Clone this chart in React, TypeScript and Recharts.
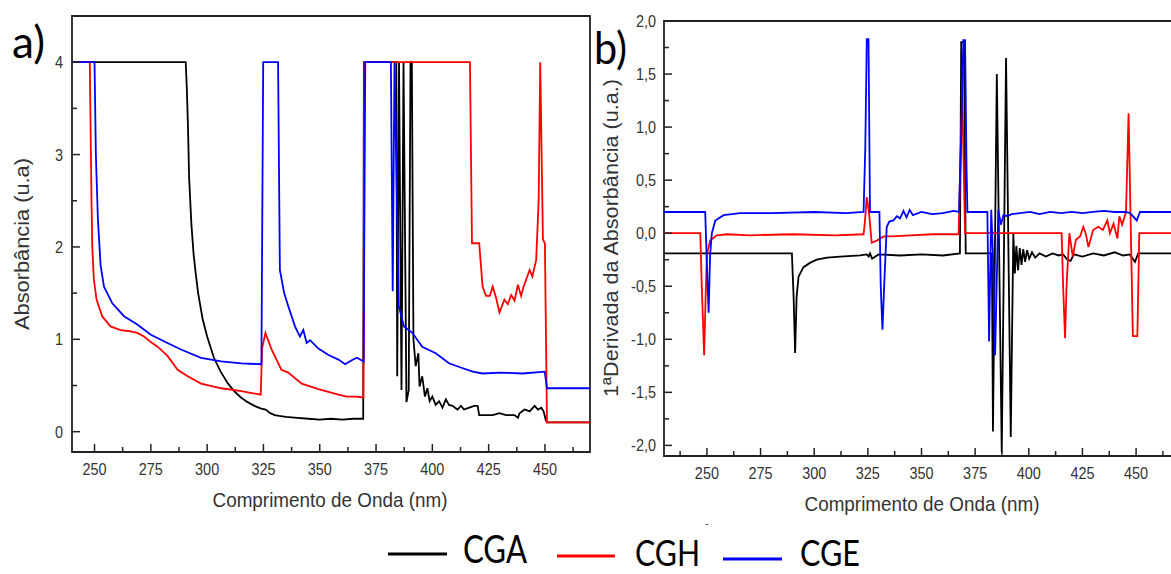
import React from 'react';
import { LineChart, Line, XAxis, YAxis, ReferenceArea } from 'recharts';

// ---------- Panel a: Absorbance ----------
const absCgaX = [240, 290.5, 291, 291.5, 292, 293, 294, 295, 296, 298, 300, 303, 306, 309, 312, 315, 318, 321, 324, 326, 327, 328, 330, 332, 335, 340, 345, 350, 355, 360, 365, 369.3, 369.6, 384, 384.4, 385.2, 386.3, 387.2, 388.5, 389.5, 390.3, 390.9, 391.6, 392.6, 393.8, 394.3, 395.5, 396.7, 397.8, 398.8, 400, 401.5, 403, 404.5, 406, 407.4, 408.9, 411.2, 412.7, 414.1, 416.4, 418.6, 420.1, 420.8, 426.8, 429.8, 432.7, 436.5, 438, 438.7, 441, 443.2, 445.4, 446.9, 448.4, 449.4, 450.3, 450.9, 470];
const absCgaY = [4, 4, 3.7, 3.3, 2.75, 2.25, 1.92, 1.7, 1.5, 1.22, 1.03, 0.8, 0.65, 0.53, 0.44, 0.37, 0.32, 0.28, 0.25, 0.24, 0.22, 0.2, 0.18, 0.17, 0.16, 0.15, 0.14, 0.13, 0.14, 0.13, 0.14, 0.14, 4, 4, 0.6, 4, 0.45, 4, 0.32, 0.45, 4, 4, 1.0, 0.71, 0.85, 0.49, 0.6, 0.38, 0.47, 0.33, 0.38, 0.29, 0.33, 0.26, 0.35, 0.29, 0.28, 0.24, 0.28, 0.24, 0.26, 0.28, 0.28, 0.18, 0.18, 0.2, 0.18, 0.18, 0.15, 0.2, 0.24, 0.22, 0.28, 0.24, 0.26, 0.22, 0.13, 0.1, 0.1];

const absCghX = [240, 247.9, 248.3, 248.6, 249, 249.7, 250.9, 253.4, 257.1, 261.6, 265, 269, 272, 275, 278, 282.4, 286.9, 291.4, 297.3, 306.3, 315.2, 323.8, 324.4, 325.9, 328.6, 333, 336, 342, 349.4, 358.3, 362, 366, 369.4, 369.8, 416.7, 417.6, 420.8, 422.3, 423.8, 425.5, 426.8, 428.3, 429.8, 432, 433.5, 435, 436.5, 438, 439.4, 440.5, 443.2, 444.4, 446.1, 447.2, 447.9, 449.1, 449.97, 450.9, 470];
const absCghY = [4, 4, 3.2, 2.6, 2.0, 1.65, 1.43, 1.25, 1.14, 1.1, 1.09, 1.07, 1.03, 0.97, 0.92, 0.82, 0.67, 0.6, 0.52, 0.47, 0.44, 0.4, 0.9, 1.07, 0.89, 0.67, 0.64, 0.52, 0.46, 0.4, 0.38, 0.38, 0.37, 4, 4, 2.04, 2.04, 1.57, 1.47, 1.47, 1.57, 1.45, 1.29, 1.43, 1.38, 1.48, 1.42, 1.59, 1.47, 1.57, 1.75, 1.68, 1.86, 2.5, 4, 2.08, 2.04, 0.1, 0.1];

const absCgeX = [240, 250, 250.6, 251.5, 252.7, 254.2, 257.9, 263.1, 269, 275, 282.4, 288.4, 297.3, 306.3, 315.2, 324.1, 324.9, 331.5, 332.3, 334.2, 336, 339, 341.2, 342.7, 344.2, 345.7, 349.4, 353.9, 358.3, 361.3, 364, 366.5, 369.5, 370.2, 381.6, 382.4, 383.2, 385.1, 387.4, 391.1, 395.5, 401.5, 407.4, 412, 417.9, 422.3, 430, 440, 449.9, 450.9, 470];
const absCgeY = [4, 4, 3.0, 2.3, 1.8, 1.57, 1.39, 1.25, 1.16, 1.05, 0.96, 0.89, 0.8, 0.76, 0.74, 0.73, 4, 4, 1.75, 1.5, 1.36, 1.14, 1.03, 1.1, 0.96, 0.99, 0.9, 0.83, 0.78, 0.73, 0.77, 0.8, 0.76, 4, 4, 1.52, 4, 1.36, 1.14, 1.07, 0.92, 0.85, 0.74, 0.7, 0.65, 0.63, 0.64, 0.63, 0.65, 0.47, 0.47];

// ---------- Panel b: 1st derivative ----------
const derCgaX = [230, 289.6, 290.4, 291.1, 291.8, 292.7, 295, 298, 301.2, 306, 312.1, 321.4, 324.5, 325.4, 326, 327, 330, 340, 350, 360, 367.9, 368.5, 369.8, 370.6, 382.8, 383.3, 385.1, 387.4, 389.4, 391.6, 392.8, 393.5, 394.2, 395, 395.8, 396.6, 397.4, 398.3, 399.2, 400.2, 401.5, 403, 405, 408, 411, 414, 416, 418, 419.5, 421, 425, 430, 435, 440, 444, 447, 449.5, 451, 470];
const derCgaY = [-0.19, -0.19, -0.6, -1.13, -0.6, -0.41, -0.32, -0.28, -0.25, -0.23, -0.22, -0.21, -0.2, -0.22, -0.19, -0.24, -0.2, -0.21, -0.2, -0.21, -0.19, 1.8, 1.8, -0.19, -0.19, -1.87, 1.5, -2.07, 1.65, -1.92, 0.0, -0.38, -0.12, -0.35, -0.14, -0.3, -0.15, -0.27, -0.16, -0.24, -0.18, -0.23, -0.19, -0.22, -0.19, -0.21, -0.2, -0.25, -0.26, -0.2, -0.22, -0.19, -0.21, -0.18, -0.21, -0.2, -0.27, -0.19, -0.19];

const derCghX = [230, 246.9, 247.6, 248.7, 249.4, 250, 251.5, 254.6, 259.3, 270, 290, 310, 323, 323.6, 324.5, 325.5, 326.8, 329.2, 332.3, 336, 345, 355, 367.3, 368, 369, 369.8, 370.3, 415.3, 416, 416.9, 417.6, 418.9, 420.5, 422, 423.9, 425.4, 426.5, 427.8, 430, 432.4, 434.5, 436.6, 437.8, 439.5, 441.3, 442.2, 443.5, 445.3, 446.5, 448.5, 450.6, 451.5, 470];
const derCghY = [0, 0, -0.5, -1.15, -0.6, -0.2, -0.07, -0.02, -0.01, -0.02, -0.01, -0.02, -0.01, 0.1, 0.34, 0.2, -0.09, -0.07, -0.03, -0.03, -0.02, -0.01, -0.01, 0.6, 1.3, 0.5, 0, 0, -0.5, -0.99, -0.5, 0, -0.22, -0.06, -0.03, 0.06, 0.0, -0.13, 0.03, 0.06, 0.03, 0.12, 0.0, 0.09, -0.05, 0.16, 0.08, 0.2, 1.13, -0.97, -0.97, 0, 0];

const derCgeX = [230, 249.2, 250, 250.8, 251.5, 252.3, 253.9, 257.8, 265.5, 280, 300, 315, 323, 323.8, 324.5, 325.3, 326, 330.4, 331, 331.8, 332.8, 333.8, 335, 336.9, 338.5, 340, 341.6, 343, 344.5, 346, 350, 355, 360, 365, 367.5, 368.6, 369.5, 370.3, 371, 371.4, 380.7, 381.5, 382.5, 383.3, 384.3, 385.8, 387, 388.2, 390, 392, 396, 400.6, 405, 410, 415, 420, 425, 430, 435, 440, 445, 447.2, 450.3, 451.8, 470];
const derCgeY = [0.2, 0.2, -0.3, -0.75, -0.2, 0.0, 0.12, 0.17, 0.19, 0.19, 0.2, 0.19, 0.2, 0.8, 1.83, 1.83, 0.2, 0.2, -0.5, -0.91, -0.4, 0.06, 0.11, 0.12, 0.16, 0.14, 0.21, 0.15, 0.22, 0.17, 0.2, 0.18, 0.19, 0.21, 0.2, 1.0, 1.82, 1.82, 0.6, 0.2, 0.2, -1.02, 0.22, -0.2, -1.15, 0.22, 0.08, 0.17, 0.16, 0.18, 0.19, 0.2, 0.18, 0.2, 0.19, 0.2, 0.19, 0.2, 0.21, 0.2, 0.2, 0.19, 0.12, 0.2, 0.2];

// ---------- Ticks ----------
const absTicksX = [250, 262.5, 275, 287.5, 300, 312.5, 325, 337.5, 350, 362.5, 375, 387.5, 400, 412.5, 425, 437.5, 450, 462.5];
const absTicksY = [0, 0.5, 1, 1.5, 2, 2.5, 3, 3.5, 4];
const derTicksX = [237.5, 250, 262.5, 275, 287.5, 300, 312.5, 325, 337.5, 350, 362.5, 375, 387.5, 400, 412.5, 425, 437.5, 450, 462.5];
const derTicksY = [-2, -1.75, -1.5, -1.25, -1, -0.75, -0.5, -0.25, 0, 0.25, 0.5, 0.75, 1, 1.25, 1.5, 1.75, 2];

const seriesNames = ['CGA', 'CGH', 'CGE'];
const seriesColors = ['#000000', '#ff0000', '#0000ff'];

const zip = (xs: number[], ys: number[]) => xs.map((x, i) => ({ x, y: ys[i] }));

const absData = [zip(absCgaX, absCgaY), zip(absCghX, absCghY), zip(absCgeX, absCgeY)];
const derData = [zip(derCgaX, derCgaY), zip(derCghX, derCghY), zip(derCgeX, derCgeY)];

const TICK_FONT = '"Liberation Sans", Arial, Helvetica, sans-serif';
const AXIS_COLOR = '#222';
const LABEL_COLOR = '#333';

const makeXTick = (isMajor: (v: number) => boolean) => (props: any) => {
  const { x, y, payload } = props;
  const v = payload.value;
  const major = isMajor(v);
  return (
    <g>
      <line x1={x} x2={x} y1={y} y2={y - (major ? 8 : 5)} stroke={AXIS_COLOR} strokeWidth={1.5} />
      {major && (
        <text transform={`translate(${x},${y + 23}) scale(0.85,1)`} textAnchor="middle" fontSize={17} fill={LABEL_COLOR} fontFamily={TICK_FONT}>
          {String(v)}
        </text>
      )}
    </g>
  );
};

const makeYTick = (isMajor: (v: number) => boolean, fmt: (v: number) => string, gap: number) => (props: any) => {
  const { x, y, payload } = props;
  const v = payload.value;
  const major = isMajor(v);
  return (
    <g>
      <line x1={x} x2={x + (major ? 8 : 5)} y1={y} y2={y} stroke={AXIS_COLOR} strokeWidth={1.5} />
      {major && (
        <text transform={`translate(${x - gap},${y + 6}) scale(0.85,1)`} textAnchor="end" fontSize={17} fill={LABEL_COLOR} fontFamily={TICK_FONT}>
          {fmt(v)}
        </text>
      )}
    </g>
  );
};

const absXTick = makeXTick((v) => v % 25 === 0);
const absYTick = makeYTick((v) => Number.isInteger(v), (v) => String(v), 9);
const derXTick = makeXTick((v) => v % 25 === 0);
const derYTick = makeYTick((v) => Number.isInteger(v * 2), (v) => v.toFixed(1).replace('.', ','), 8);

const LEGEND_FONT = 'Lato, "Open Sans", "Liberation Sans", sans-serif';

export default function App() {
  return (
    <div style={{ position: 'fixed', left: 0, top: 0, width: 1171, height: 574, overflow: 'hidden', background: '#fff' }}>
      {/* Panel a */}
      <div style={{ position: 'absolute', left: 0, top: 0 }}>
        <LineChart width={600} height={574} margin={{ top: 16, left: 71, right: 10, bottom: 121 }}>
          <XAxis dataKey="x" type="number" domain={[240, 470]} ticks={absTicksX} interval={0} allowDataOverflow height={1} tickSize={0} tickMargin={0} axisLine={false} tickLine={false} tick={absXTick} />
          <YAxis type="number" domain={[-0.22, 4.5]} ticks={absTicksY} interval={0} allowDataOverflow width={1} tickSize={0} tickMargin={0} axisLine={false} tickLine={false} tick={absYTick} />
          <ReferenceArea x1={240} x2={470} y1={-0.22} y2={4.5} fill="none" stroke={AXIS_COLOR} strokeWidth={1.8} />
          {absData.map((d, i) => (
            <Line key={seriesNames[i]} data={d} dataKey="y" name={seriesNames[i]} type="linear" stroke={seriesColors[i]} strokeWidth={1.8} dot={false} activeDot={false} isAnimationActive={false} />
          ))}
        </LineChart>
      </div>

      {/* Panel b */}
      <div style={{ position: 'absolute', left: 580, top: 0 }}>
        <LineChart width={620} height={574} margin={{ top: 21, left: 83, right: 21, bottom: 117 }}>
          <XAxis dataKey="x" type="number" domain={[230, 470]} ticks={derTicksX} interval={0} allowDataOverflow height={1} tickSize={0} tickMargin={0} axisLine={false} tickLine={false} tick={derXTick} />
          <YAxis type="number" domain={[-2.1, 2.0]} ticks={derTicksY} interval={0} allowDataOverflow width={1} tickSize={0} tickMargin={0} axisLine={false} tickLine={false} tick={derYTick} />
          <ReferenceArea x1={230} x2={470} y1={-2.1} y2={2.0} fill="none" stroke={AXIS_COLOR} strokeWidth={1.8} />
          {derData.map((d, i) => (
            <Line key={seriesNames[i]} data={d} dataKey="y" name={seriesNames[i]} type="linear" stroke={seriesColors[i]} strokeWidth={1.8} dot={false} activeDot={false} isAnimationActive={false} />
          ))}
        </LineChart>
      </div>

      {/* Titles and legend */}
      <svg width={1171} height={574} style={{ position: 'absolute', left: 0, top: 0, pointerEvents: 'none' }}>
        <text x={12} y={58} fontSize={44} fontFamily={LEGEND_FONT} fill="#000" textLength={33} lengthAdjust="spacingAndGlyphs">a)</text>
        <text x={594} y={64} fontSize={44} fontFamily={LEGEND_FONT} fill="#000" textLength={33} lengthAdjust="spacingAndGlyphs">b)</text>

        <text transform="translate(29,244) rotate(-90)" textAnchor="middle" fontSize={20} fontFamily={TICK_FONT} fill={LABEL_COLOR} textLength={172} lengthAdjust="spacingAndGlyphs">Absorbância (u.a)</text>
        <text transform="translate(618,238) rotate(-90)" textAnchor="middle" fontSize={20} fontFamily={TICK_FONT} fill={LABEL_COLOR} textLength={318} lengthAdjust="spacingAndGlyphs">1ªDerivada da Absorbância (u.a.)</text>

        <text x={330} y={507} textAnchor="middle" fontSize={21} fontFamily={TICK_FONT} fill={LABEL_COLOR} textLength={235} lengthAdjust="spacingAndGlyphs">Comprimento de Onda (nm)</text>
        <text x={922} y={511} textAnchor="middle" fontSize={21} fontFamily={TICK_FONT} fill={LABEL_COLOR} textLength={235} lengthAdjust="spacingAndGlyphs">Comprimento de Onda (nm)</text>
        <text x={705} y={527} fontSize={10} fontFamily={TICK_FONT} fill="#333">-</text>

        <line x1={388} x2={447} y1={554} y2={554} stroke={seriesColors[0]} strokeWidth={3} />
        <text x={463} y={563} fontSize={38} fontFamily={LEGEND_FONT} fill="#000" textLength={64} lengthAdjust="spacingAndGlyphs">{seriesNames[0]}</text>
        <line x1={557} x2={615} y1={556} y2={556} stroke={seriesColors[1]} strokeWidth={3} />
        <text x={635} y={566} fontSize={36} fontFamily={LEGEND_FONT} fill="#000" textLength={65} lengthAdjust="spacingAndGlyphs">{seriesNames[1]}</text>
        <line x1={723} x2={782} y1={559} y2={559} stroke={seriesColors[2]} strokeWidth={3} />
        <text x={800} y={566} fontSize={36} fontFamily={LEGEND_FONT} fill="#000" textLength={60} lengthAdjust="spacingAndGlyphs">{seriesNames[2]}</text>
      </svg>
    </div>
  );
}
